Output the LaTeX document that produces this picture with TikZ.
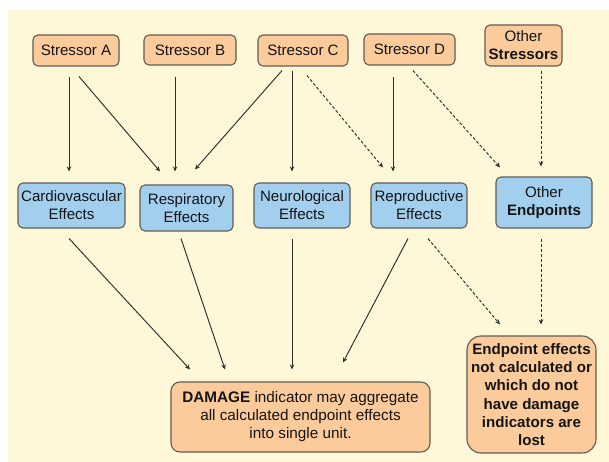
\documentclass[tikz,border=0pt]{standalone}
\usepackage{fontspec}
\setmainfont{Liberation Sans}
\usetikzlibrary{arrows.meta}
\definecolor{cream}{HTML}{FEF8D8}
\definecolor{peach}{HTML}{FCCB9C}
\definecolor{skyb}{HTML}{A3CFEE}
\definecolor{edge}{HTML}{625C55}
\definecolor{ink}{HTML}{141414}
\definecolor{linec}{HTML}{2E2E2E}
\tikzset{
  box/.style={draw=edge, line width=1.1pt, rounded corners=5pt, align=center, inner sep=0pt,
    text=ink, font=\fontsize{15.1}{18}\selectfont},
  stressbox/.style={box, fill=peach},
  effbox/.style={box, fill=skyb},
  conn/.style={draw=linec, line width=0.95pt, -{Stealth[length=5pt,width=4.5pt]}},
  dconn/.style={conn, dash pattern=on 3pt off 2pt},
}
\begin{document}
\begin{tikzpicture}[x=1pt,y=-1pt]
\useasboundingbox (0,0) rectangle (609,462);
\fill[white] (0,0) rectangle (609,462);
\fill[cream] (8,10) rectangle (609,462);

\node[stressbox, minimum width=86pt, minimum height=31pt] (sA) at (76,50.5) {Stressor A};
\node[stressbox, minimum width=92pt, minimum height=30pt] (sB) at (190,50) {Stressor B};
\node[stressbox, minimum width=90pt, minimum height=31pt] (sC) at (303,50.5) {Stressor C};
\node[stressbox, minimum width=91pt, minimum height=31pt] (sD) at (409.5,49.5) {Stressor D};
\node[stressbox, minimum width=77pt, minimum height=41pt] (sO) at (523.5,45.5) {Other\\\textbf{Stressors}};

\node[effbox, minimum width=107pt, minimum height=45pt] (eC) at (71.5,205.5) {Cardiovascular\\Effects};
\node[effbox, minimum width=93pt, minimum height=46pt] (eR) at (186.5,208) {Respiratory\\Effects};
\node[effbox, minimum width=96pt, minimum height=45pt] (eN) at (302,205.5) {Neurological\\Effects};
\node[effbox, minimum width=96pt, minimum height=45pt] (eP) at (419,205.5) {Reproductive\\Effects};
\node[effbox, minimum width=96pt, minimum height=51pt] (eO) at (544,202.5) {Other\\\textbf{Endpoints}};

\node[stressbox, rounded corners=9pt, minimum width=259pt, minimum height=70pt, font=\fontsize{15.3}{18}\selectfont] (dmg) at (300.5,417)
  {\textbf{DAMAGE} indicator may aggregate\\all calculated endpoint effects\\into single unit.};
\node[stressbox, rounded corners=14pt, minimum width=129pt, minimum height=117pt, font=\bfseries\fontsize{15.1}{18.3}\selectfont] (lost) at (531.5,394.5)
  {Endpoint effects\\not calculated or\\which do not\\have damage\\indicators are\\lost};

% stressors to effects
\draw[conn] ([xshift=-7pt,yshift=-10pt]sA.south) -- ([xshift=-2.5pt,yshift=11pt]eC.north);
\draw[conn] ([xshift=3pt,yshift=-10pt]sA.south) -- ([xshift=-26.5pt,yshift=13pt]eR.north);
\draw[conn] ([xshift=-15pt,yshift=-11pt]sB.south) -- ([xshift=-11.5pt,yshift=13pt]eR.north);
\draw[conn] ([xshift=-21pt,yshift=-4pt]sC.south) -- ([xshift=8.5pt,yshift=15pt]eR.north);
\draw[conn] ([xshift=-11pt,yshift=-4pt]sC.south) -- ([xshift=-10pt,yshift=11pt]eN.north);
\draw[dconn] ([xshift=4pt,yshift=-9pt]sC.south) -- ([xshift=-36pt,yshift=15pt]eP.north);
\draw[conn] ([xshift=-16.5pt,yshift=-11pt]sD.south) -- ([xshift=-26pt,yshift=11pt]eP.north);
\draw[dconn] ([xshift=3.5pt,yshift=-5pt]sD.south) -- ([xshift=-44pt,yshift=9pt]eO.north);
\draw[dconn] ([xshift=17.5pt,yshift=-4pt]sO.south) -- ([xshift=-3pt,yshift=10pt]eO.north);

% effects to outcomes
\draw[conn] ([xshift=-2.5pt,yshift=-10pt]eC.south) -- ([xshift=-110.5pt,yshift=12pt]dmg.north);
\draw[conn] ([xshift=-5.5pt,yshift=-7pt]eR.south) -- ([xshift=-75.5pt,yshift=12pt]dmg.north);
\draw[conn] ([xshift=-10pt,yshift=-10pt]eN.south) -- ([xshift=-8.5pt,yshift=12pt]dmg.north);
\draw[conn] ([xshift=-11pt,yshift=-10pt]eP.south) -- ([xshift=42.5pt,yshift=19pt]dmg.north);
\draw[dconn] ([xshift=9pt,yshift=-10pt]eP.south) -- ([xshift=-31.5pt,yshift=11pt]lost.north);
\draw[dconn] ([xshift=-3pt,yshift=-10pt]eO.south) -- ([xshift=9.5pt,yshift=11pt]lost.north);
\end{tikzpicture}
\end{document}
